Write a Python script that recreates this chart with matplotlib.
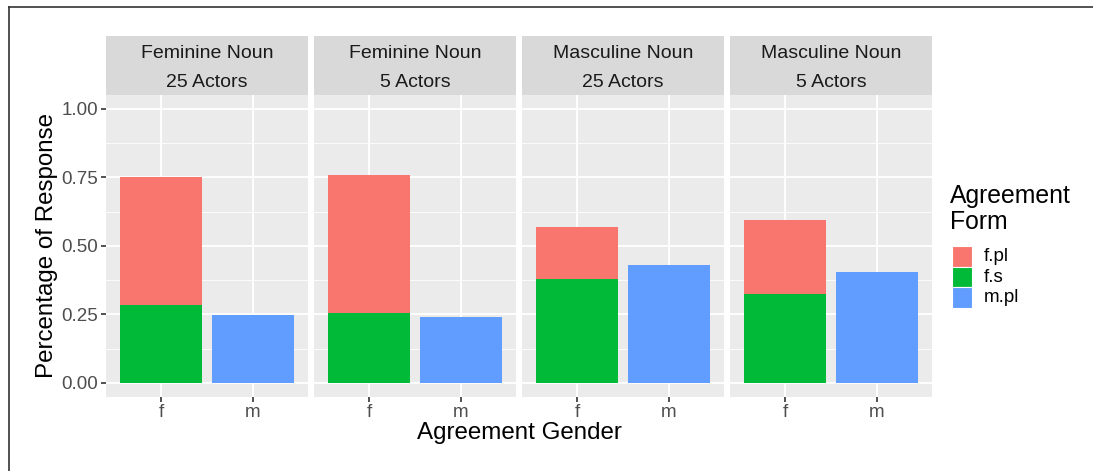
import matplotlib
matplotlib.use("Agg")
import matplotlib.pyplot as plt
from matplotlib.lines import Line2D

plt.rcParams['font.family'] = ['Liberation Sans', 'DejaVu Sans']

# ---- data ----
panel_titles = ["Feminine Noun\n25 Actors", "Feminine Noun\n5 Actors",
                "Masculine Noun\n25 Actors", "Masculine Noun\n5 Actors"]
genders = ["f", "m"]
fs_on_f = [0.285, 0.255, 0.380, 0.325]      # f.s share for gender f
fpl_on_f = [0.465, 0.502, 0.187, 0.271]     # f.pl share for gender f (stacked on f.s)
mpl_on_m = [0.248, 0.241, 0.431, 0.405]     # m.pl share for gender m
forms = ["f.pl", "f.s", "m.pl"]
form_colors = ["#F8766D", "#00BA38", "#619CFF"]
y_ticks = [0.0, 0.25, 0.50, 0.75, 1.00]
y_ticklabels = ["0.00", "0.25", "0.50", "0.75", "1.00"]

W, H = 1093, 471
fig = plt.figure(figsize=(W / 100, H / 100), dpi=100)
fig.patch.set_facecolor("white")

panel_left = [106, 314, 522, 730]
panel_w = 202
panel_top, panel_bot = 95, 396.7
strip_top = 36

tick_col = "#4D4D4D"
for i, title in enumerate(panel_titles):
    ax = fig.add_axes([panel_left[i] / W, 1 - panel_bot / H, panel_w / W, (panel_bot - panel_top) / H])
    ax.set_facecolor("#EBEBEB")
    xs = [1, 2]
    ax.bar(1, fs_on_f[i], width=0.9, color=form_colors[1], zorder=3)
    ax.bar(1, fpl_on_f[i], width=0.9, bottom=fs_on_f[i], color=form_colors[0], zorder=3)
    ax.bar(2, mpl_on_m[i], width=0.9, color=form_colors[2], zorder=3)
    ax.set_xlim(0.4, 2.6)
    ax.set_ylim(-0.05, 1.05)
    # grid
    for yv in [0.125, 0.375, 0.625, 0.875]:
        ax.axhline(yv, color="white", lw=0.6, zorder=1)
    for yv in y_ticks:
        ax.axhline(yv, color="white", lw=1.3, zorder=1)
    for xv in xs:
        ax.axvline(xv, color="white", lw=1.3, zorder=1)
    for s in ax.spines.values():
        s.set_visible(False)
    ax.set_xticks(xs)
    ax.set_xticklabels(genders, fontsize=13.5, color=tick_col)
    ax.tick_params(axis="x", length=3.5, width=1.2, color="#333333", pad=2)
    ax.set_yticks(y_ticks)
    if i == 0:
        ax.set_yticklabels(y_ticklabels, fontsize=13.5, color=tick_col)
        ax.tick_params(axis="y", length=3.5, width=1.2, color="#333333", pad=2)
    else:
        ax.tick_params(axis="y", length=0, labelleft=False)
    # strip
    sax = fig.add_axes([panel_left[i] / W, 1 - panel_top / H, panel_w / W, (panel_top - strip_top) / H])
    sax.set_facecolor("#D9D9D9")
    sax.set_xticks([]); sax.set_yticks([])
    for s in sax.spines.values():
        s.set_visible(False)
    l1, l2 = title.split("\n")
    sax.text(0.5, 0.71, l1, ha="center", va="center", fontsize=14, color="#1A1A1A", transform=sax.transAxes)
    sax.text(0.5, 0.22, l2, ha="center", va="center", fontsize=14, color="#1A1A1A", transform=sax.transAxes)

# axis titles
fig.text(47 / W, 1 - 245 / H, "Percentage of Response", rotation=90, ha="center", va="center", fontsize=17.4, color="black")
fig.text(519 / W, 1 - 433 / H, "Agreement Gender", ha="center", va="center", fontsize=17.4, color="black")

# legend
fig.text(950 / W, 1 - 196 / H, "Agreement", ha="left", va="center", fontsize=17.8)
fig.text(950 / W, 1 - 222 / H, "Form", ha="left", va="center", fontsize=17.8)
key_y = [246, 266.5, 287]
for k, (lab, col) in enumerate(zip(forms, form_colors)):
    fig.patches.append(matplotlib.patches.Rectangle((951.5 / W, 1 - (key_y[k] + 20.5) / H), 20.5 / W, 20.5 / H,
                                                    transform=fig.transFigure, facecolor=col, edgecolor="white", lw=0.8))
    fig.text(984 / W, 1 - (key_y[k] + 10.5) / H, lab, ha="left", va="center", fontsize=13.5)

# outer border (left and top)
fig.add_artist(Line2D([8.5 / W, 8.5 / W], [0, 1 - 6.5 / H], transform=fig.transFigure, color="#333333", lw=1.2))
fig.add_artist(Line2D([8.5 / W, 1], [1 - 6.5 / H, 1 - 6.5 / H], transform=fig.transFigure, color="#333333", lw=1.2))

fig.savefig("out.png", dpi=100, facecolor="white")
